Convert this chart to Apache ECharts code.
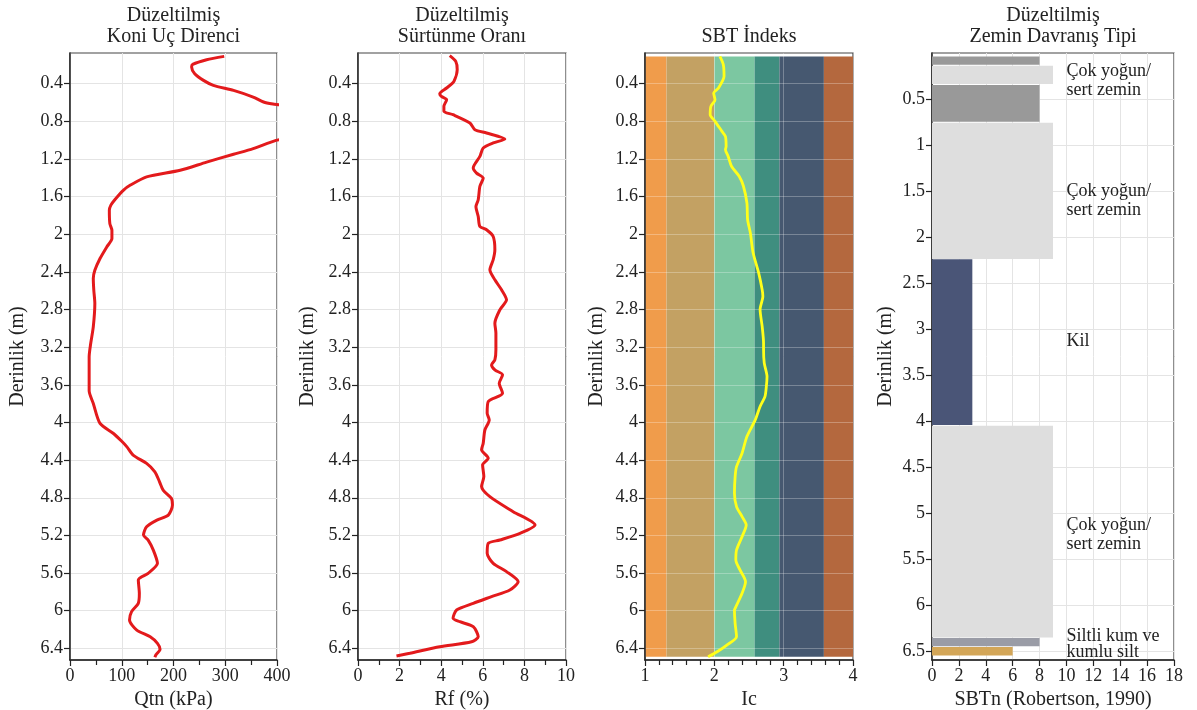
<!DOCTYPE html>
<html>
<head>
<meta charset="utf-8">
<script src="https://cdn.jsdelivr.net/npm/echarts@6/dist/echarts.min.js"></script>
<style>html,body{margin:0;padding:0;background:#fff}#c{width:1197px;height:710px}</style>
</head>
<body>
<div id="c"></div>
<script>
// ---------- DATA ----------
const depthTicks123 = [0.4,0.8,1.2,1.6,2,2.4,2.8,3.2,3.6,4,4.4,4.8,5.2,5.6,6,6.4];
const depthTicks4 = [0.5,1,1.5,2,2.5,3,3.5,4,4.5,5,5.5,6,6.5];

const qtnDepth = [0.11,0.145,0.195,0.224,0.294,0.365,0.418,0.471,0.542,0.595,0.617,0.63,0.7,0.8,0.9,0.97,1.002,1.09,1.15,1.233,1.32,1.39,1.48,1.533,1.63,1.69,1.745,1.887,1.958,2.046,2.135,2.258,2.383,2.47,2.595,2.736,2.985,3.161,3.303,3.48,3.664,3.798,4.01,4.117,4.2,4.259,4.347,4.435,4.524,4.63,4.719,4.807,4.878,4.984,5.037,5.108,5.197,5.25,5.356,5.497,5.603,5.674,5.816,5.922,6.01,6.1,6.206,6.277,6.347,6.41,6.47,6.495];
const qtnValue = [298,264,237,235,241,258,277,316,354,374,392,410,450,475,460,430,398,354,316,264,213,148,116,103,87,79,76,77,81,81,71,58,48,45,46,48,45,40,37,37,37,45,58,84,100,110,122,148,164,173,180,196,198,190,168,148,142,151,161,169,151,132,134,132,119,115,129,155,169,174,166,164];

const rfDepth = [0.102,0.163,0.251,0.376,0.446,0.506,0.535,0.57,0.641,0.694,0.73,0.818,0.889,0.924,0.988,1.03,1.084,1.173,1.296,1.35,1.403,1.49,1.633,1.705,1.811,1.917,1.952,2.024,2.165,2.271,2.378,2.484,2.59,2.697,2.803,2.945,3.05,3.228,3.335,3.388,3.441,3.494,3.583,3.689,3.778,3.901,3.973,4.08,4.22,4.29,4.38,4.45,4.575,4.68,4.788,4.948,5.089,5.178,5.249,5.284,5.39,5.497,5.585,5.692,5.78,5.851,5.922,5.993,6.081,6.117,6.17,6.277,6.33,6.383,6.453,6.482];
const rfValue = [4.41,4.70,4.77,4.61,4.26,3.93,4.01,4.26,4.13,4.13,4.57,5.38,5.62,6.18,7.06,6.50,6.02,5.86,5.54,5.70,6.02,5.86,5.78,5.67,5.78,5.86,6.18,6.50,6.58,6.50,6.34,6.58,6.90,7.14,6.82,6.58,6.63,6.63,6.58,6.42,6.58,6.95,6.79,6.95,6.26,6.21,6.31,6.10,6.02,5.94,6.26,5.99,6.05,5.94,6.34,7.46,8.51,7.79,6.82,6.26,6.21,6.50,7.14,7.70,7.30,6.42,5.54,4.74,4.57,4.90,5.54,5.78,5.46,3.93,2.49,1.85];

const icDepth = [0.11,0.198,0.322,0.446,0.5,0.57,0.641,0.73,0.8,0.907,0.96,1.067,1.1,1.173,1.28,1.386,1.49,1.668,1.846,1.988,2.2,2.413,2.59,2.66,2.8,2.98,3.157,3.228,3.37,3.512,3.618,3.725,3.83,3.973,4.15,4.327,4.47,4.575,4.75,4.894,5.0,5.089,5.213,5.355,5.461,5.567,5.692,5.815,5.975,5.993,6.134,6.277,6.365,6.436,6.49];
const icValue = [2.08,2.13,2.14,2.06,1.99,2.01,1.95,1.94,2.01,2.11,2.16,2.17,2.16,2.20,2.25,2.36,2.42,2.47,2.48,2.52,2.56,2.64,2.69,2.70,2.66,2.69,2.71,2.71,2.72,2.76,2.75,2.73,2.66,2.59,2.47,2.40,2.32,2.30,2.29,2.32,2.40,2.46,2.40,2.32,2.31,2.37,2.45,2.40,2.30,2.29,2.30,2.32,2.18,2.04,1.91];

// SBT index zone boundaries (Ic)
const icZoneStart = [1.0,1.31,2.0,2.58,2.94,3.58];
const icZoneEnd   = [1.31,2.0,2.58,2.94,3.58,4.0];

// SBTn layers
const sbtTop    = [0.03,0.13,0.34,0.75,2.235,4.045,6.35,6.45];
const sbtBottom = [0.12,0.33,0.74,2.23,4.035,6.345,6.44,6.54];
const sbtValue  = [8,9,8,9,3,9,8,6];
const sbtZone   = ['z8','z9','z8','z9','z3','z9','z5','z6'];

const sbtLabelDepth = [0.29,1.6,3.12,5.23,6.42];
const sbtLabelX = [10,10,10,10,10];
const sbtLabelText = ['Çok yoğun/\nsert zemin','Çok yoğun/\nsert zemin','Kil','Çok yoğun/\nsert zemin','Siltli kum ve\nkumlu silt'];

// ---------- STYLE ----------
const FONT = '"Liberation Serif","Times New Roman",serif';
const TXT = '#222';
const icZoneColors = ['#f09c4b','#c3a163','#7cc7a1','#3f8e7f','#465870','#b4683e'];
const zoneColors = {z8:'#999999', z9:'#dedede', z3:'#4a5577', z5:'#9a9ca6', z6:'#d3a658'};

const grids = [
  {left:70, top:53, width:207, height:607},
  {left:358, top:53, width:208, height:607},
  {left:645, top:53, width:208, height:607},
  {left:932, top:53, width:242, height:607}
].map(g => Object.assign(g, {show:true, borderColor:'#444', borderWidth:1.2, backgroundColor:'transparent', containLabel:false, outerBoundsMode:'none'}));

function xAx(i, min, max, interval, name, minorSplit, gridColor, z) {
  return {
    type:'value', gridIndex:i, min, max, interval, name,
    nameLocation:'middle', nameGap:24,
    nameTextStyle:{fontFamily:FONT, fontSize:20, color:TXT},
    axisLine:{show:true, onZero:false, lineStyle:{color:'#222', width:1.5}},
    axisTick:{show:true, length:6, lineStyle:{color:'#222', width:1.2}},
    minorTick:{show:minorSplit>0, splitNumber:minorSplit||1, length:5, lineStyle:{color:'#222', width:1.2}},
    axisLabel:{fontFamily:FONT, fontSize:18, color:TXT, margin:7, showMinLabel:true, showMaxLabel:true, hideOverlap:false},
    splitLine:{show:true, lineStyle:{color:gridColor, width:1}},
    minorSplitLine:{show:false},
    z: z||0
  };
}
function yAx(i, min, max, ticks, gap, gridColor, z) {
  return {
    type:'value', gridIndex:i, min, max, inverse:true,
    name:'Derinlik (m)', nameLocation:'middle', nameGap:gap,
    nameTextStyle:{fontFamily:FONT, fontSize:20, color:TXT},
    axisLine:{show:true, onZero:false, lineStyle:{color:'#222', width:1.5}},
    axisTick:{show:true, length:6, customValues:ticks, lineStyle:{color:'#222', width:1.2}},
    axisLabel:{fontFamily:FONT, fontSize:18, color:TXT, margin:7, customValues:ticks,
      formatter: v => String(+(+v).toFixed(2)), hideOverlap:false},
    splitLine:{show:true, lineStyle:{color:gridColor, width:1}},
    z: z||0
  };
}

const lineSeries = (i, xs, ds, color, w) => ({
  type:'line', xAxisIndex:i, yAxisIndex:i,
  data: ds.map((d,k) => [xs[k], d]),
  symbol:'none', showSymbol:false, smooth:0.25, clip:true,
  lineStyle:{color, width:w}, z:10, silent:true, animation:false
});

const icTopDepth = icDepth[0], icBotDepth = icDepth[icDepth.length-1];

const option = {
  backgroundColor:'#ffffff',
  animation:false,
  title: [
    {text:'Düzeltilmiş\nKoni Uç Direnci', left:173.5, top:5},
    {text:'Düzeltilmiş\nSürtünme Oranı', left:462, top:5},
    {text:'SBT İndeks', left:749, top:26},
    {text:'Düzeltilmiş\nZemin Davranış Tipi', left:1053, top:5}
  ].map(t => Object.assign(t, {textAlign:'center', padding:0,
      textStyle:{fontFamily:FONT, fontSize:20, fontWeight:'normal', color:TXT, lineHeight:21}})),
  grid: grids,
  xAxis: [
    xAx(0, 0, 400, 100, 'Qtn (kPa)', 2, '#e4e4e4'),
    xAx(1, 0, 10, 2, 'Rf (%)', 2, '#e4e4e4'),
    xAx(2, 1, 4, 1, 'Ic', 5, 'rgba(255,255,255,0.28)', 3),
    xAx(3, 0, 18, 2, 'SBTn (Robertson, 1990)', 0, '#e4e4e4')
  ],
  yAxis: [
    yAx(0, 0.074, 6.524, depthTicks123, 42, '#e4e4e4'),
    yAx(1, 0.074, 6.524, depthTicks123, 40, '#e4e4e4'),
    yAx(2, 0.074, 6.524, depthTicks123, 38, 'rgba(255,255,255,0.28)', 3),
    yAx(3, -0.008, 6.59, depthTicks4, 36, '#e4e4e4')
  ],
  series: [
    lineSeries(0, qtnValue, qtnDepth, '#e31a1c', 3),
    lineSeries(1, rfValue, rfDepth, '#e31a1c', 3),
    {
      type:'custom', xAxisIndex:2, yAxisIndex:2, z:1, silent:true,
      dimensions:['x0','x1','k'], encode:{x:[0,1]},
      data: icZoneStart.map((s,k) => [s, icZoneEnd[k], k]),
      renderItem: (params, api) => {
        const p0 = api.coord([api.value(0), icTopDepth]);
        const p1 = api.coord([api.value(1), icBotDepth]);
        return {type:'rect', shape:{x:p0[0], y:p0[1], width:p1[0]-p0[0], height:p1[1]-p0[1]},
          style:{fill: icZoneColors[api.value(2)]}};
      }
    },
    lineSeries(2, icValue, icDepth, '#ffff1a', 2.8),
    {
      type:'custom', xAxisIndex:3, yAxisIndex:3, z:2, silent:true,
      dimensions:['top','bottom','sbtn','idx'], encode:{x:[2], y:[0,1]},
      data: sbtTop.map((t,k) => [t, sbtBottom[k], sbtValue[k], k]),
      renderItem: (params, api) => {
        const k = api.value(3);
        const p0 = api.coord([0, api.value(0)]);
        const p1 = api.coord([api.value(2), api.value(1)]);
        return {type:'rect', shape:{x:p0[0], y:p0[1], width:p1[0]-p0[0], height:p1[1]-p0[1]},
          style:{fill: zoneColors[sbtZone[k]]}};
      }
    },
    {
      type:'custom', xAxisIndex:3, yAxisIndex:3, z:6, silent:true,
      dimensions:['x','d','idx'], encode:{x:[0], y:[1]},
      data: sbtLabelDepth.map((d,k) => [sbtLabelX[k], d, k]),
      renderItem: (params, api) => {
        const k = api.value(2);
        const p = api.coord([api.value(0), api.value(1)]);
        return {type:'text', x:p[0], y:p[1],
          style:{text: sbtLabelText[k], fontFamily:FONT, fontSize:18, fill:TXT,
            align:'left', verticalAlign:'middle', lineHeight: k===4 ? 16 : 19}};
      }
    }
  ]
};

const chart = echarts.init(document.getElementById('c'), null, {renderer:'canvas'});
chart.setOption(option);
</script>
</body>
</html>
